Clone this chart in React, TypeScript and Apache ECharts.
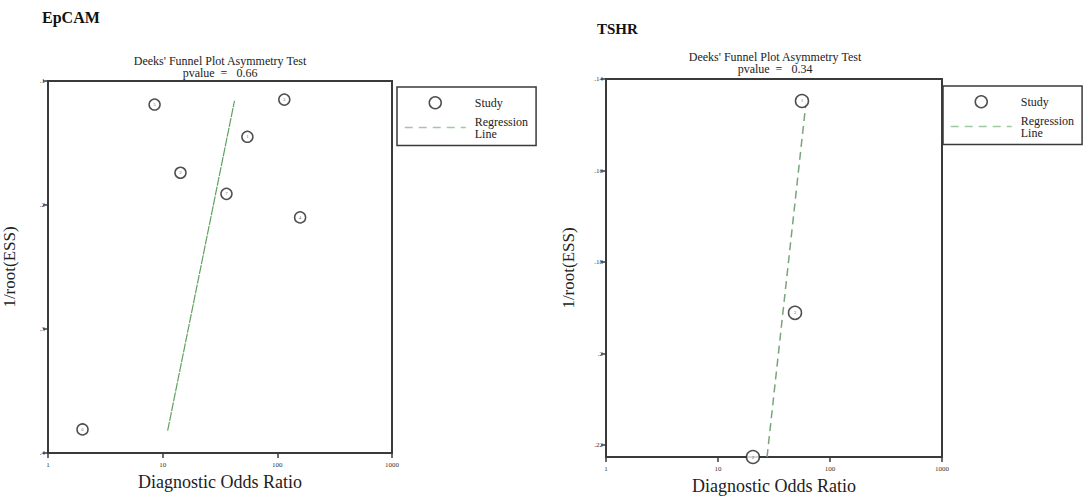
import React, { useEffect, useRef } from "react";
import * as echarts from "echarts";

// EpCAM panel data
const epcamDOR = [8.5, 115, 54.8, 14.3, 36, 158, 2.0];
const epcamInvRootESS = [0.119, 0.115, 0.145, 0.174, 0.191, 0.21, 0.381];
const epcamStudyIds = ["5", "3", "1", "2", "7", "4", "6"];
const epcamRegDOR = [11.05, 42.3];
const epcamRegY = [0.382, 0.116];
const epcamPvalue = "0.66";

// TSHR panel data
const tshrDOR = [56.2, 48.7, 20.5];
const tshrInvRootESS = [0.1448, 0.1911, 0.2226];
const tshrStudyIds = ["1", "3", "2"];
const tshrRegDOR = [27.4, 61];
const tshrRegY = [0.2226, 0.1452];
const tshrPvalue = "0.34";

const FONT = '"Times New Roman", "Liberation Serif", "DejaVu Serif", serif';
const AXIS = "#3a3a3a";

const yFmt = (v: number) => {
  const s = String(+v.toFixed(3));
  return s.replace(/^0\./, ".");
};

function makeLegend(left: number, top: number, lineColor: string) {
  return {
    orient: "vertical",
    left,
    top,
    align: "left",
    itemWidth: 61,
    itemHeight: 12,
    itemGap: 6,
    padding: [9, 8, 6, 7],
    borderColor: AXIS,
    borderWidth: 1.5,
    selectedMode: false,
    textStyle: { fontFamily: FONT, fontSize: 12, color: "#222", lineHeight: 12, padding: [0, 0, 0, 4] },
    formatter: (n: string) => (n === "Regression Line" ? "Regression\nLine" : n),
    data: [
      {
        name: "Study",
        icon: "circle",
        itemStyle: { color: "#fff", borderColor: "#222", borderWidth: 1.5 },
      },
      {
        name: "Regression Line",
        itemStyle: { color: "rgba(0,0,0,0)", borderColor: "rgba(0,0,0,0)", borderWidth: 0 },
        lineStyle: { color: lineColor, type: [8, 6], width: 1.5 },
      },
    ],
  };
}

export default function App() {
  const ref = useRef<HTMLDivElement>(null);
  useEffect(() => {
    if (!ref.current) return;
    const chart = echarts.init(ref.current, null, { renderer: "svg" });

    const xAxisBase = (gridIndex: number) => ({
      type: "log",
      logBase: 10,
      gridIndex,
      min: 1,
      max: 1000,
      name: "Diagnostic Odds Ratio",
      nameLocation: "middle",
      nameTextStyle: { fontFamily: FONT, fontSize: 18, color: "#222" },
      axisLine: { lineStyle: { color: AXIS, width: 2 } },
      axisTick: { show: true, length: 5, lineStyle: { color: AXIS, width: 1.5 } },
      minorTick: { show: false },
      splitLine: { show: false },
      axisLabel: { fontFamily: FONT, fontSize: 7, color: "#333", margin: 8, formatter: (v: number) => String(Math.round(v)) },
    });

    const yAxisBase = (gridIndex: number) => ({
      type: "value",
      gridIndex,
      inverse: true,
      name: "1/root(ESS)",
      nameLocation: "middle",
      nameRotate: 90,
      nameTextStyle: { fontFamily: FONT, fontSize: 17, color: "#222" },
      axisLine: { show: true, lineStyle: { color: AXIS, width: 2 } },
      axisTick: { show: true, length: 5, lineStyle: { color: AXIS, width: 1.5 } },
      splitLine: { show: false },
      axisLabel: { fontFamily: FONT, fontSize: 7, color: "#333", margin: 3, formatter: yFmt },
    });

    const subStyle = { fontFamily: FONT, fontSize: 12, fontWeight: "normal", color: "#222", lineHeight: 12 };

    const option: any = {
      animation: false,
      backgroundColor: "#fff",
      title: [
        { text: "EpCAM", left: 42, top: 9, padding: 0, textStyle: { fontFamily: FONT, fontSize: 16, fontWeight: "bold", color: "#111" } },
        { text: "TSHR", left: 597, top: 21, padding: 0, textStyle: { fontFamily: FONT, fontSize: 15, fontWeight: "bold", color: "#111" } },
        {
          text: "Deeks' Funnel Plot Asymmetry Test\npvalue  =   " + epcamPvalue,
          left: 220,
          top: 55,
          padding: 0,
          textAlign: "center",
          textStyle: subStyle,
        },
        {
          text: "Deeks' Funnel Plot Asymmetry Test\npvalue  =   " + tshrPvalue,
          left: 775,
          top: 51,
          padding: 0,
          textAlign: "center",
          textStyle: subStyle,
        },
      ],
      legend: [makeLegend(397, 87, "#9fc99f"), makeLegend(943, 86, "#9fc99f")],
      grid: [
        { left: 47, top: 81, width: 345, height: 372, show: true, borderColor: AXIS, borderWidth: 2, backgroundColor: "transparent" },
        { left: 606, top: 79, width: 336, height: 378, show: true, borderColor: AXIS, borderWidth: 2, backgroundColor: "transparent" },
      ],
      xAxis: [
        { ...xAxisBase(0), nameGap: 17 },
        { ...xAxisBase(1), nameGap: 20 },
      ],
      yAxis: [
        { ...yAxisBase(0), min: 0.1, max: 0.4, interval: 0.1, nameGap: 30 },
        {
          ...yAxisBase(1),
          min: 0.14,
          max: 0.2226,
          interval: 0.02,
          nameGap: 29,
          axisLabel: {
            fontFamily: FONT,
            fontSize: 7,
            color: "#333",
            margin: 3,
            showMaxLabel: false,
            formatter: (v: number) => (Math.abs(v - 0.2226) < 1e-6 ? "" : yFmt(v)),
          },
        },
      ],
      series: [
        {
          name: "Regression Line",
          type: "line",
          xAxisIndex: 0,
          yAxisIndex: 0,
          symbol: "none",
          lineStyle: { color: "#5fa05f", width: 1.2, type: [9, 1] },
          data: epcamRegDOR.map((x, i) => [x, epcamRegY[i]]),
          z: 2,
        },
        {
          name: "Study",
          type: "scatter",
          xAxisIndex: 0,
          yAxisIndex: 0,
          symbol: "circle",
          symbolSize: 11,
          clip: false,
          itemStyle: { color: "#fff", borderColor: "#222", borderWidth: 1.5 },
          label: { show: true, position: "inside", fontSize: 5, color: "#333", fontFamily: FONT, formatter: (p: any) => epcamStudyIds[p.dataIndex] },
          data: epcamDOR.map((x, i) => [x, epcamInvRootESS[i]]),
          z: 3,
        },
        {
          name: "Regression Line",
          type: "line",
          xAxisIndex: 1,
          yAxisIndex: 1,
          symbol: "none",
          clip: false,
          lineStyle: { color: "#7aa57a", width: 1.5, type: [8, 5] },
          data: tshrRegDOR.map((x, i) => [x, tshrRegY[i]]),
          z: 2,
        },
        {
          name: "Study",
          type: "scatter",
          xAxisIndex: 1,
          yAxisIndex: 1,
          symbol: "circle",
          symbolSize: 13,
          clip: false,
          itemStyle: { color: "#fff", borderColor: "#222", borderWidth: 1.5 },
          label: { show: true, position: "inside", fontSize: 5, color: "#333", fontFamily: FONT, formatter: (p: any) => tshrStudyIds[p.dataIndex] },
          data: tshrDOR.map((x, i) => [x, tshrInvRootESS[i]]),
          z: 3,
        },
      ],
    };

    chart.setOption(option);
    return () => chart.dispose();
  }, []);

  return (
    <div
      ref={ref}
      style={{ position: "fixed", left: 0, top: 0, width: 1085, height: 504, background: "#fff" }}
    />
  );
}
